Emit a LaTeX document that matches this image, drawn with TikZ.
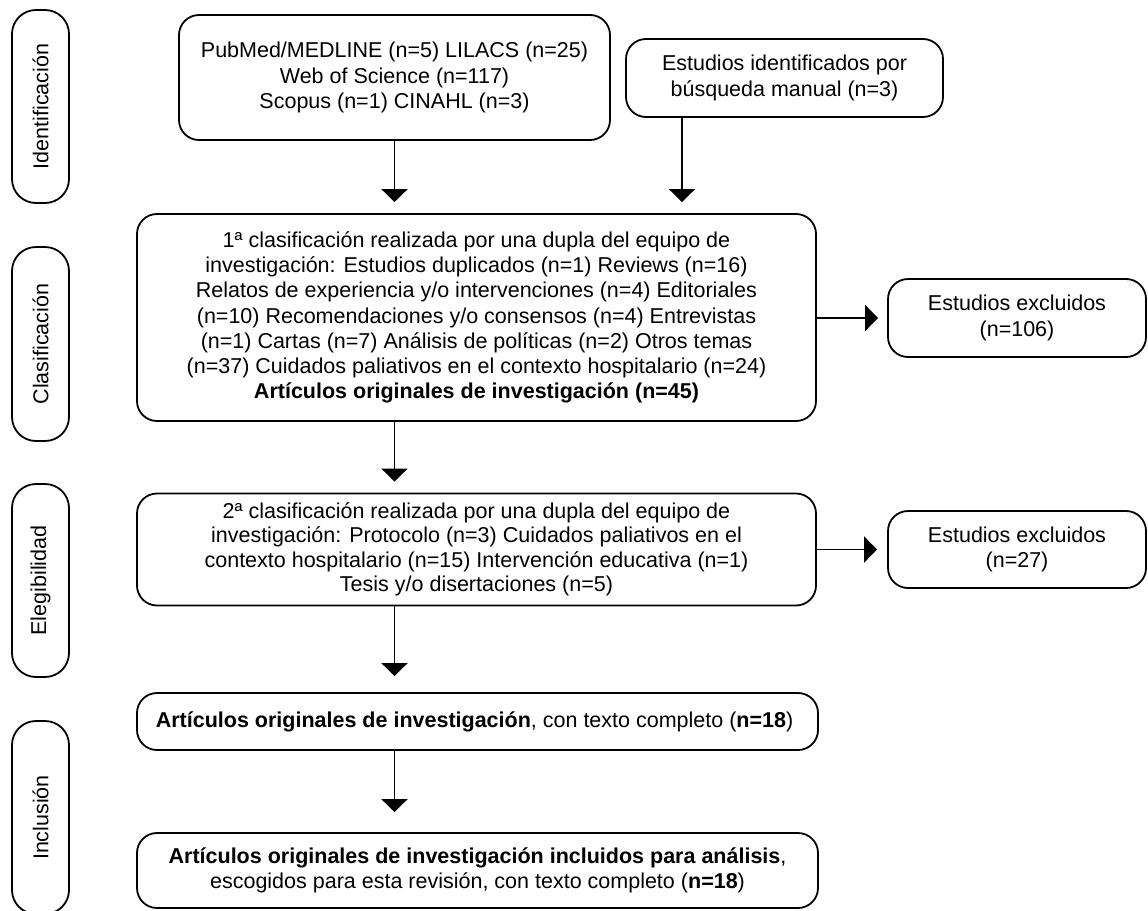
\documentclass[tikz,border=0pt]{standalone}
\usepackage{fontspec}
\setmainfont{Liberation Sans}
\usetikzlibrary{arrows.meta,positioning,calc}

\tikzset{
    box/.style={draw, line width=1.8pt, rounded corners=20pt, align=center, inner sep=0pt},
    side/.style={draw, line width=1.8pt, rounded corners=24pt, rotate=90, minimum height=57pt, minimum width=193pt, inner sep=0pt},
    arr/.style={line width=1.8pt, -{Triangle[length=13pt,width=26pt]}},
}

\begin{document}
\begin{tikzpicture}[x=1pt, y=-1pt, font=\fontsize{21.5}{25.2}\selectfont]
\useasboundingbox (0,0) rectangle (1148,910);

% Stage labels on the left
\node[side] (ident) at (40.5,106.5) {Identificación};
\node[side, minimum width=194pt] (clasif) at (40.5,344) {Clasificación};
\node[side] (elegib) at (40.5,580.5) {Elegibilidad};
\node[side] (inclu) at (40.5,817.5) {Inclusión};

% Identification
\node[box, minimum width=431pt, minimum height=125pt] (db) at (394.5,77.5) {
    PubMed/MEDLINE (n=5) LILACS (n=25)\\
    Web of Science (n=117)\\
    Scopus (n=1) CINAHL (n=3)
};
\node[box, minimum width=317pt, minimum height=78pt] (manual) at (784.5,78) {
    Estudios identificados por\\
    búsqueda manual (n=3)
};
\coordinate (mx) at (682,0);

% First classification
\node[box, minimum width=679pt, minimum height=207pt] (class) at (476.5,317.5) {
    1ª clasificación realizada por una dupla del equipo de\\
    investigación: Estudios duplicados (n=1) Reviews (n=16)\\
    Relatos de experiencia y/o intervenciones (n=4) Editoriales\\
    (n=10) Recomendaciones y/o consensos (n=4) Entrevistas\\
    (n=1) Cartas (n=7) Análisis de políticas (n=2) Otros temas\\
    (n=37) Cuidados paliativos en el contexto hospitalario (n=24)\\
    \textbf{Artículos originales de investigación (n=45)}
};
\node[box, minimum width=258pt, minimum height=78pt] (exc1) at (1017,318) {
    Estudios excluidos\\
    (n=106)
};

% Second classification
\node[box, minimum width=679pt, minimum height=112pt, font=\fontsize{21.5}{24.4}\selectfont] (elig) at (476.5,549.5) {
    2ª clasificación realizada por una dupla del equipo de\\
    investigación: Protocolo (n=3) Cuidados paliativos en el\\
    contexto hospitalario (n=15) Intervención educativa (n=1)\\
    Tesis y/o disertaciones (n=5)
};
\node[box, minimum width=258pt, minimum height=77pt] (exc2) at (1017,549.5) {
    Estudios excluidos\\
    (n=27)
};

% Inclusion
\node[box, minimum width=681pt, minimum height=57pt] (art) at (477.5,721.5) {
    \textbf{Artículos originales de investigación}, con texto completo (\textbf{n=18})
};
\node[box, minimum width=681pt, minimum height=75pt] (final) at (477.5,870.5) {
    \textbf{Artículos originales de investigación incluidos para análisis},\\
    escogidos para esta revisión, con texto completo (\textbf{n=18})
};

% Arrows
\draw[arr, shorten >=11pt] (db.south) -- (db.south |- class.north);
\draw[arr, shorten >=11pt] (manual.south -| mx) -- (class.north -| mx);
\draw[arr, shorten >=9pt] (class.east |- exc1.west) -- (exc1.west);
\draw[arr, shorten >=11pt] (class.south -| db) -- (elig.north -| db);
\draw[arr, shorten >=10pt] (elig.east |- exc2.west) -- (exc2.west);
\draw[arr, shorten >=16pt] (elig.south -| db) -- (art.north -| db);
\draw[arr, shorten >=20pt] (art.south -| db) -- (final.north -| db);

\end{tikzpicture}
\end{document}
